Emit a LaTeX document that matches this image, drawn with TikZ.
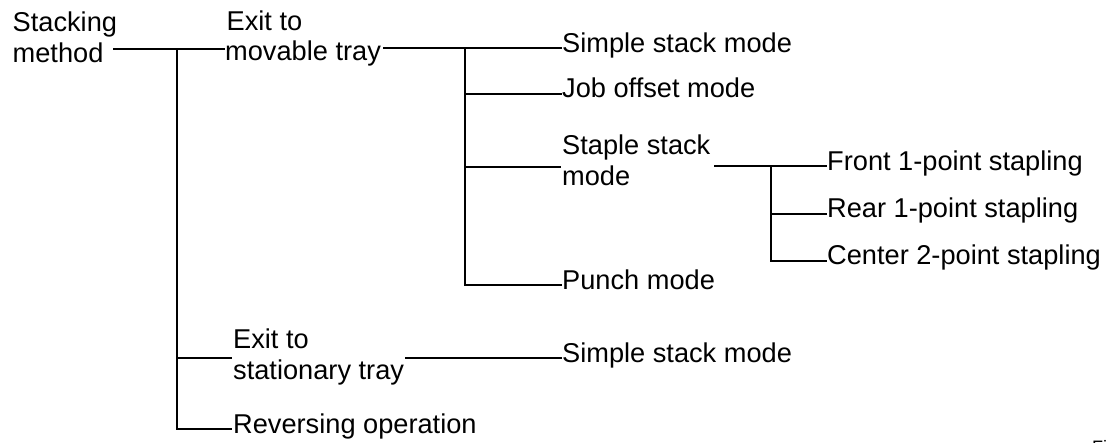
\documentclass[tikz,border=0pt]{standalone}
\usepackage{fontspec}
\setmainfont{Liberation Sans}
\begin{document}
\begin{tikzpicture}[x=1pt,y=-1pt,
  lbl/.style={anchor=base west, inner sep=0pt, font=\fontsize{27.2}{31}\selectfont},
  conn/.style={line width=2pt}]
\useasboundingbox (0,0) rectangle (1114,442);

% labels
\node[lbl] (root1) at (12.5,31) {Stacking};
\node[lbl] (root2) at (12.5,62) {method};
\node[lbl] (mov1) at (226.5,30) {Exit to};
\node[lbl] (mov2) at (225,60) {movable tray};
\node[lbl] (ssm1) at (562,52) {Simple stack mode};
\node[lbl] (job) at (562,97) {Job offset mode};
\node[lbl] (stp1) at (562,154) {Staple stack};
\node[lbl] (stp2) at (562,185) {mode};
\node[lbl] (front) at (827,170) {Front 1-point stapling};
\node[lbl] (rear) at (827,217) {Rear 1-point stapling};
\node[lbl] (center) at (827,264) {Center 2-point stapling};
\node[lbl] (punch) at (562,289) {Punch mode};
\node[lbl] (sta1) at (233,348) {Exit to};
\node[lbl] (sta2) at (233,379) {stationary tray};
\node[lbl] (ssm2) at (562,362) {Simple stack mode};
\node[lbl] (rev) at (233,433) {Reversing operation};
\node[anchor=base west, inner sep=0pt, font=\fontsize{18}{20}\selectfont] (fig) at (1092,453) {Fig.};

% connector points
\coordinate (rootout) at (113,49);
\coordinate (jA) at (177,49);
\coordinate (movin) at (225,49);
\coordinate (stain) at (232,358);
\coordinate (revin) at (232,429);
\coordinate (movout) at (383,48);
\coordinate (jB) at (465,48);
\coordinate (ssm1in) at (562,48);
\coordinate (jobin) at (562,94);
\coordinate (stpin) at (561,167);
\coordinate (punchin) at (562,285);
\coordinate (stpout) at (714,166);
\coordinate (jC) at (771,166);
\coordinate (frontin) at (827,166);
\coordinate (rearin) at (827,213.5);
\coordinate (centerin) at (827,260.5);
\coordinate (staout) at (405,358);
\coordinate (ssm2in) at (562,358);

% connectors
\draw[conn] (rootout) -- (movin);
\draw[conn] (jA) |- (revin);
\draw[conn] (jA |- stain) -- (stain);
\draw[conn] (movout) -- (ssm1in);
\draw[conn] (jB) |- (punchin);
\draw[conn] (jB |- jobin) -- (jobin);
\draw[conn] (jB |- stpin) -- (stpin);
\draw[conn] (stpout) -- (frontin);
\draw[conn] (jC) |- (centerin);
\draw[conn] (jC |- rearin) -- (rearin);
\draw[conn] (staout) -- (ssm2in);
\end{tikzpicture}
\end{document}
